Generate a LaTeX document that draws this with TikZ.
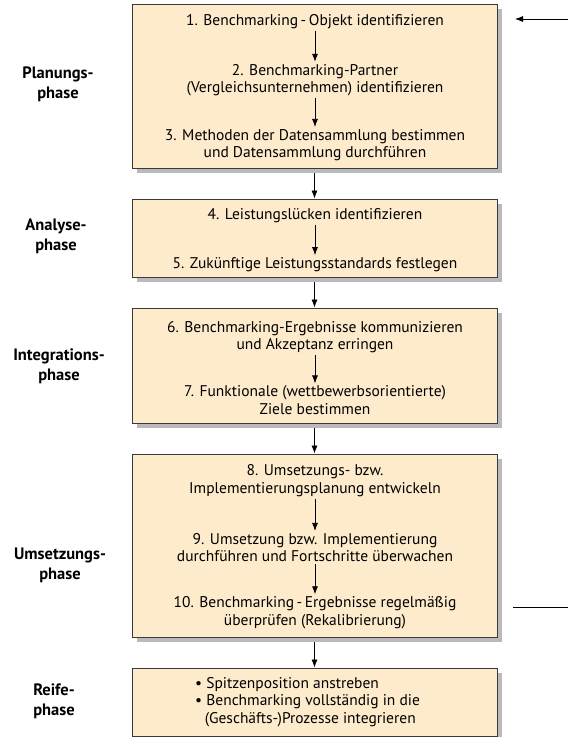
\documentclass[tikz,border=0pt]{standalone}
\usepackage{fontspec}
\setmainfont{PT Sans}
\usetikzlibrary{arrows.meta,shadows}
\definecolor{boxfill}{HTML}{FDEBCB}
\definecolor{boxborder}{HTML}{3A3A3A}
\definecolor{shadowgray}{HTML}{B9B9BE}
\tikzset{
  phasebox/.style={draw=boxborder, fill=boxfill, line width=0.9pt, minimum width=365pt, inner sep=0pt,
    drop shadow={shadow xshift=5pt, shadow yshift=-5pt, fill=shadowgray, opacity=1}},
  txt/.style={font=\fontsize{15.5}{17.5}\selectfont, align=center, inner sep=2pt},
  phaselabel/.style={font=\bfseries\fontsize{16.5}{20}\selectfont, align=center},
  arr/.style={-{Latex[length=8pt,width=6pt]}, line width=0.8pt, black},
}
\begin{document}
\begin{tikzpicture}[x=1pt,y=-1pt]
\useasboundingbox (0,0) rectangle (569,737);
% boxes
\node[phasebox, minimum height=164pt] (b1) at (314.5,86) {};
\node[phasebox, minimum height=78pt] (b2) at (314.5,238) {};
\node[phasebox, minimum height=115pt] (b3) at (314.5,365.5) {};
\node[phasebox, minimum height=183pt] (b4) at (314.5,545.5) {};
\node[phasebox, minimum height=68pt] (b5) at (314.5,702) {};
% texts
\node[txt] (t1) at (315,21.5) {1. Benchmarking\,-\,Objekt identifizieren};
\node[txt] (t2) at (315,80) {2. Benchmarking-Partner\\(Vergleichsunternehmen) identifizieren};
\node[txt] (t3) at (315,145) {3. Methoden der Datensammlung bestimmen\\und Datensammlung durchführen};
\node[txt] (t4) at (315,215.5) {4. Leistungslücken identifizieren};
\node[txt] (t5) at (315,264.5) {5. Zukünftige Leistungsstandards festlegen};
\node[txt] (t6) at (315,337) {6. Benchmarking-Ergebnisse kommunizieren\\und Akzeptanz erringen};
\node[txt] (t7) at (315,400) {7. Funktionale (wettbewerbsorientierte)\\Ziele bestimmen};
\node[txt] (t8) at (315,480.5) {8. Umsetzungs- bzw.\\Implementierungsplanung entwickeln};
\node[txt] (t9) at (315,547.5) {9. Umsetzung bzw. Implementierung\\durchführen und Fortschritte überwachen};
\node[txt] (t10) at (315,612.5) {10. Benchmarking\,-\,Ergebnisse regelmäßig\\überprüfen (Rekalibrierung)};
\node[txt, align=left, anchor=west] (t11) at (193,702) {\textbullet\ Spitzenposition anstreben\\\textbullet\ Benchmarking vollständig in die\\\hphantom{\textbullet}\,(Geschäfts-)Prozesse integrieren};
% phase labels
\node[phaselabel] (p1) at (58,84) {Planungs-\\phase};
\node[phaselabel] (p2) at (56,236) {Analyse-\\phase};
\node[phaselabel] (p3) at (59,366) {Integrations-\\phase};
\node[phaselabel] (p4) at (60,565) {Umsetzungs-\\phase};
\node[phaselabel] (p5) at (54,701) {Reife-\\phase};
% arrows inside boxes
\draw[arr] (t1) -- (t2);
\draw[arr] (t2) -- (t3);
\draw[arr] (t4) -- (t5);
\draw[arr] (t6) -- (t7);
\draw[arr] (t8) -- (t9);
\draw[arr] (t9) -- (t10);
% arrows between boxes
\draw[arr] ([yshift=-5pt]b1.south) -- (b2.north);
\draw[arr] ([yshift=-5pt]b2.south) -- (b3.north);
\draw[arr] ([yshift=-5pt]b3.south) -- (b4.north);
\draw[arr] ([yshift=-5pt]b4.south) -- (b5.north);
% side lines
\coordinate (inS) at (568,19);
\coordinate (inE) at (515,19);
\draw[arr] (inS) -- (inE);
\coordinate (outS) at (513,607);
\coordinate (outE) at (568,607);
\draw[line width=0.8pt] (outS) -- (outE);
\end{tikzpicture}
\end{document}
